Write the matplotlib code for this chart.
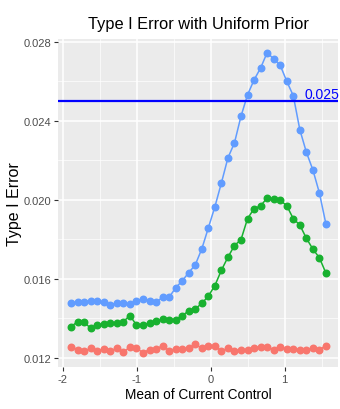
import numpy as np
import matplotlib
matplotlib.use("Agg")
import matplotlib.pyplot as plt
from matplotlib.ticker import MultipleLocator, FixedLocator

plt.rcParams['font.family'] = ['Liberation Sans', 'DejaVu Sans']

x_start, x_end, n_pts = -1.89, 1.56, 40
mean_control = np.linspace(x_start, x_end, n_pts)

red_vals = [0.01257, 0.01242, 0.01234, 0.01249, 0.01235, 0.01244, 0.01235, 0.01249,
            0.01230, 0.01254, 0.01249, 0.01227, 0.01242, 0.01244, 0.01262, 0.01237,
            0.01246, 0.01246, 0.01249, 0.01269, 0.01249, 0.01262, 0.01261, 0.01235,
            0.01249, 0.01235, 0.01242, 0.01242, 0.01249, 0.01257, 0.01256, 0.01242,
            0.01256, 0.01244, 0.01246, 0.01242, 0.01242, 0.01249, 0.01242, 0.01262]

green_vals = [0.01358, 0.01384, 0.01381, 0.01350, 0.01367, 0.01371, 0.01376, 0.01377,
              0.01384, 0.01414, 0.01367, 0.01367, 0.01377, 0.01385, 0.01397, 0.01394,
              0.01394, 0.01414, 0.01438, 0.01448, 0.01476, 0.01513, 0.01566, 0.01644,
              0.01710, 0.01769, 0.01799, 0.01905, 0.01956, 0.01970, 0.02010, 0.02005,
              0.01998, 0.01971, 0.01905, 0.01873, 0.01806, 0.01751, 0.01707, 0.01629]

blue_vals = [0.01477, 0.01482, 0.01485, 0.01490, 0.01489, 0.01482, 0.01470, 0.01477,
             0.01477, 0.01473, 0.01490, 0.01499, 0.01489, 0.01482, 0.01507, 0.01507,
             0.01555, 0.01590, 0.01632, 0.01671, 0.01752, 0.01858, 0.01965, 0.02086,
             0.02213, 0.02289, 0.02424, 0.02532, 0.02608, 0.02668, 0.02746, 0.02714,
             0.02682, 0.02601, 0.02528, 0.02356, 0.02242, 0.02152, 0.02035, 0.01877]

threshold = 0.025
threshold_label = "0.025"
x_ticks = [-2, -1, 0, 1]
y_ticks = [0.012, 0.016, 0.020, 0.024, 0.028]
y_tick_labels = ["0.012", "0.016", "0.020", "0.024", "0.028"]

series = [(red_vals, "#F8766D"), (green_vals, "#18B12F"), (blue_vals, "#619CFF")]

fig = plt.figure(figsize=(3.4, 4.1), dpi=100)
ax = fig.add_axes([58/340, 1 - 368/410, (338 - 58)/340, (368 - 40)/410])
ax.set_facecolor("#EBEBEB")

for vals, col in series:
    ax.plot(mean_control, vals, color=col, lw=1.1, marker='o', ms=4.7,
            mec=col, mfc=col, zorder=3)

ax.axhline(threshold, color="#0000FF", lw=1.6, zorder=4)
ax.text(1.50, threshold + 0.00003, threshold_label, color="#0000FF", fontsize=10,
        ha='center', va='bottom', zorder=5)

ax.set_xlim(-2.067, 1.723)
ax.set_ylim(0.01154, 0.02815)

ax.xaxis.set_major_locator(FixedLocator(x_ticks))
ax.xaxis.set_minor_locator(MultipleLocator(0.5))
ax.yaxis.set_major_locator(FixedLocator(y_ticks))
ax.set_yticklabels(y_tick_labels)
ax.yaxis.set_minor_locator(MultipleLocator(0.002))
ax.set_xticklabels([str(t) for t in x_ticks])

ax.grid(which='major', color='white', lw=1.1)
ax.grid(which='minor', color='white', lw=0.5)
ax.set_axisbelow(True)
for s in ax.spines.values():
    s.set_visible(False)
ax.tick_params(which='major', length=3, width=0.8, color='#333333',
               labelcolor='#4D4D4D', labelsize=8, pad=2)
ax.tick_params(which='minor', length=0)

ax.set_title("Type I Error with Uniform Prior", fontsize=11.8, pad=8, color='black')
ax.set_xlabel("Mean of Current Control", fontsize=9.8, labelpad=2)
ax.set_ylabel("Type I Error", fontsize=11.5)
ax.yaxis.set_label_coords(-0.13, 0.5)

fig.savefig("out.png", dpi=100)
